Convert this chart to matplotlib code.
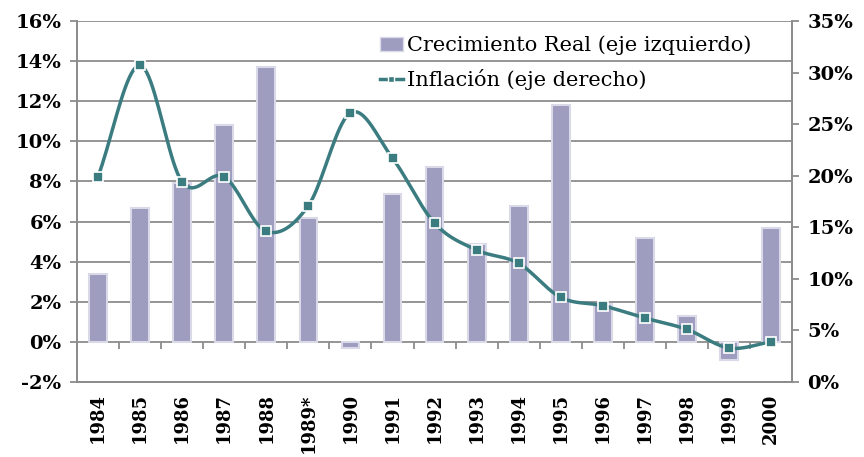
import numpy as np
import matplotlib
matplotlib.use("Agg")
import matplotlib.pyplot as plt
from matplotlib.ticker import FuncFormatter, MultipleLocator
from matplotlib.lines import Line2D
from matplotlib.patches import Patch

# data
years = ["1984", "1985", "1986", "1987", "1988", "1989*", "1990", "1991", "1992",
         "1993", "1994", "1995", "1996", "1997", "1998", "1999", "2000"]
crecimiento = [3.4, 6.7, 7.9, 10.8, 13.7, 6.2, -0.3, 7.4, 8.7,
               4.9, 6.8, 11.8, 1.9, 5.2, 1.3, -0.9, 5.7]
inflacion = [19.9, 30.7, 19.4, 19.9, 14.6, 17.1, 26.1, 21.7, 15.4,
             12.8, 11.5, 8.2, 7.4, 6.2, 5.1, 3.3, 3.9]

bar_color = "#9e9cbf"
line_color = "#3b7c80"
grid_color = "#8c8c8c"
font = "DejaVu Serif"


def smooth(y, n=20):
    # Catmull-Rom spline like Excel's smoothed line
    y = np.asarray(y, float)
    x = np.arange(len(y), dtype=float)
    px = np.concatenate([[2 * x[0] - x[1]], x, [2 * x[-1] - x[-2]]])
    py = np.concatenate([[2 * y[0] - y[1]], y, [2 * y[-1] - y[-2]]])
    xs, ys = [], []
    t = np.linspace(0, 1, n, endpoint=False)
    for i in range(1, len(px) - 2):
        for arr, out in ((px, xs), (py, ys)):
            p0, p1, p2, p3 = arr[i - 1], arr[i], arr[i + 1], arr[i + 2]
            out.extend(0.5 * ((2 * p1) + (-p0 + p2) * t
                              + (2 * p0 - 5 * p1 + 4 * p2 - p3) * t ** 2
                              + (-p0 + 3 * p1 - 3 * p2 + p3) * t ** 3))
    xs.append(x[-1])
    ys.append(y[-1])
    return np.array(xs), np.array(ys)


fig = plt.figure(figsize=(8.64, 4.57), dpi=100)
ax = fig.add_axes([0.089, 0.164, 0.828, 0.790])
ax2 = ax.twinx()

x = np.arange(len(years))
ax.bar(x, crecimiento, width=0.42, color=bar_color, edgecolor="#d9d9e8",
       linewidth=1.5, zorder=3)

ax.set_ylim(-2, 16)
ax.set_xlim(-0.5, len(years) - 0.5)
ax.yaxis.set_major_locator(MultipleLocator(2))
ax.yaxis.set_major_formatter(FuncFormatter(lambda v, p: "%d%%" % round(v)))
ax.grid(axis="y", color=grid_color, linewidth=1.3, zorder=0)
ax.set_axisbelow(True)

ax.set_xticks(x)
ax.set_xticklabels(years, rotation=90, fontfamily=font, fontweight="bold",
                   fontsize=13)
ax.tick_params(axis="x", length=0, pad=8)
ax.tick_params(axis="y", length=5, width=1.3, color=grid_color, pad=6)
for lab in ax.get_yticklabels():
    lab.set_fontfamily(font)
    lab.set_fontweight("bold")
    lab.set_fontsize(14)

# category axis sits at 0%
sec = ax.secondary_xaxis(2 / 18)
sec.set_xticks(np.arange(len(years) + 1) - 0.5)
sec.set_xticklabels([])
sec.tick_params(length=5, width=1.3, color=grid_color, direction="out")
sec.spines["bottom"].set_visible(False)

ax2.set_ylim(0, 35)
ax2.yaxis.set_major_locator(MultipleLocator(5))
ax2.yaxis.set_major_formatter(FuncFormatter(lambda v, p: "%d%%" % round(v)))
ax2.tick_params(axis="y", length=5, width=1.3, color=grid_color, pad=6)
for lab in ax2.get_yticklabels():
    lab.set_fontfamily(font)
    lab.set_fontweight("bold")
    lab.set_fontsize(14)

sx, sy = smooth(inflacion)
ax2.plot(sx, sy, color=line_color, linewidth=2.5, zorder=4)
ax2.plot(x, inflacion, linestyle="none", marker="s", markersize=7,
         markerfacecolor=line_color, markeredgecolor="white",
         markeredgewidth=1.2, zorder=5)

for a in (ax, ax2):
    for s in a.spines.values():
        s.set_color(grid_color)
        s.set_linewidth(1.3)
    a.spines["top"].set_visible(False)

handles = [Patch(facecolor=bar_color, edgecolor="#d9d9e8"),
           Line2D([], [], color=line_color, linewidth=2.5, marker="s",
                  markersize=5, markerfacecolor=line_color,
                  markeredgecolor="white")]
ax2.legend(handles, ["Crecimiento Real (eje izquierdo)", "Inflación (eje derecho)"],
           loc="upper left", bbox_to_anchor=(0.403, 1.0), frameon=False,
           prop={"family": font, "size": 15}, handlelength=1.1,
           handletextpad=0.2, labelspacing=0.65, borderaxespad=0.3)

fig.savefig("out.png", dpi=100)
